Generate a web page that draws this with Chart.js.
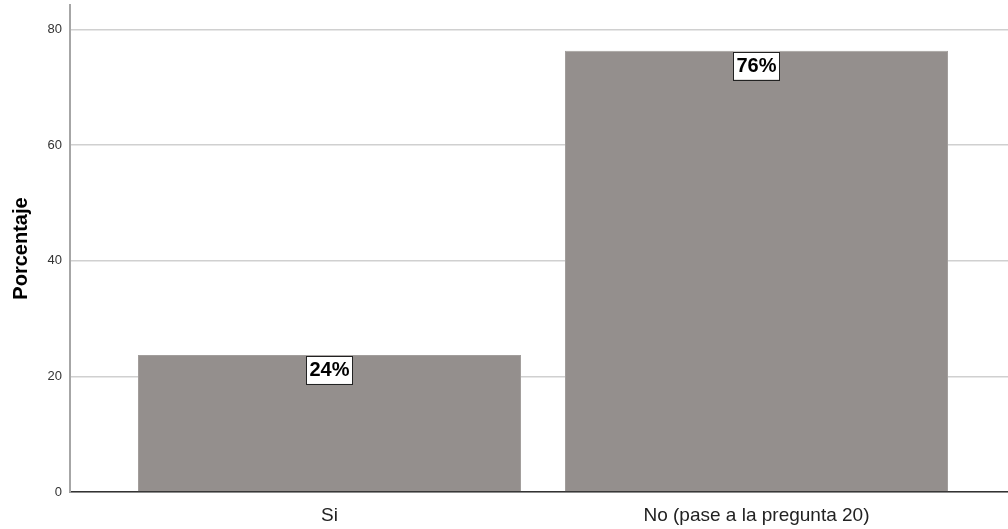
<!DOCTYPE html>
<html>
<head>
<meta charset="utf-8">
<script src="https://cdn.jsdelivr.net/npm/chart.js@4/dist/chart.umd.min.js"></script>
<style>
html,body{margin:0;padding:0;background:#fff;}
#wrap{width:1008px;height:529px;position:relative;}
</style>
</head>
<body>
<div id="wrap"><canvas id="c" width="1008" height="529"></canvas></div>
<script>
const categories = ["Si", "No (pase a la pregunta 20)"];
const percentages = [23.7, 76.3];
const yTicks = [0, 20, 40, 60, 80];
const positions = [1, 2];

const labelPlugin = {
  id: 'boxLabels',
  afterDatasetsDraw(chart) {
    const ctx = chart.ctx;
    const meta = chart.getDatasetMeta(0);
    ctx.save();
    ctx.font = 'bold 20px "Liberation Sans", Arial, sans-serif';
    ctx.textAlign = 'center';
    ctx.textBaseline = 'middle';
    meta.data.forEach((bar, i) => {
      const txt = Math.round(percentages[i]) + '%';
      const w = ctx.measureText(txt).width + 6;
      const h = 28;
      const x = bar.x - w / 2;
      const y = bar.y + 1;
      ctx.fillStyle = '#ffffff';
      ctx.fillRect(x, y, w, h);
      ctx.strokeStyle = '#222222';
      ctx.lineWidth = 1;
      ctx.strokeRect(Math.round(x) + 0.5, Math.round(y) + 0.5, Math.round(w), h);
      ctx.fillStyle = '#000000';
      ctx.fillText(txt, bar.x, y + h / 2 + 1);
    });
    ctx.restore();
  }
};

new Chart(document.getElementById('c'), {
  type: 'bar',
  data: {
    datasets: [{
      data: positions.map((p, i) => ({x: p, y: percentages[i]})),
      backgroundColor: '#948f8d',
      borderColor: '#a29e9c',
      borderWidth: 1,
      barPercentage: 0.897,
      categoryPercentage: 1.0
    }]
  },
  options: {
    responsive: false,
    animation: false,
    layout: {padding: {top: 5, right: 0, left: 0, bottom: 0}},
    plugins: {legend: {display: false}, tooltip: {enabled: false}},
    scales: {
      x: {
        type: 'linear',
        offset: false,
        min: 0.3923,
        max: 2.589,
        afterBuildTicks(scale) { scale.ticks = positions.map(v => ({value: v})); },
        afterFit(scale) { scale.height = 37; scale.paddingLeft = 0; scale.paddingRight = 0; },
        ticks: {
          autoSkip: false,
          maxRotation: 0,
          padding: 12,
          color: '#222',
          font: {family: '"Liberation Sans", Arial, sans-serif', size: 19},
          callback: (v) => categories[positions.indexOf(v)] ?? ''
        },
        grid: {display: false, drawTicks: false},
        border: {display: true, color: '#333', width: 1.5}
      },
      y: {
        min: 0,
        max: 84.2,
        afterBuildTicks(scale) { scale.ticks = yTicks.map(v => ({value: v})); },
        afterFit(scale) { scale.width = 70; scale.paddingTop = 0; scale.paddingBottom = 0; },
        ticks: {
          padding: 8,
          color: '#333',
          font: {family: '"Liberation Sans", Arial, sans-serif', size: 13}
        },
        grid: {color: '#d0d0d0', lineWidth: 1.5, drawTicks: false},
        border: {display: true, color: '#a6a6a6', width: 2},
        title: {
          display: true,
          text: 'Porcentaje',
          color: '#000',
          padding: {top: 9, bottom: 0},
          font: {family: '"Liberation Sans", Arial, sans-serif', size: 20, weight: 'bold'}
        }
      }
    }
  },
  plugins: [labelPlugin]
});
</script>
</body>
</html>
